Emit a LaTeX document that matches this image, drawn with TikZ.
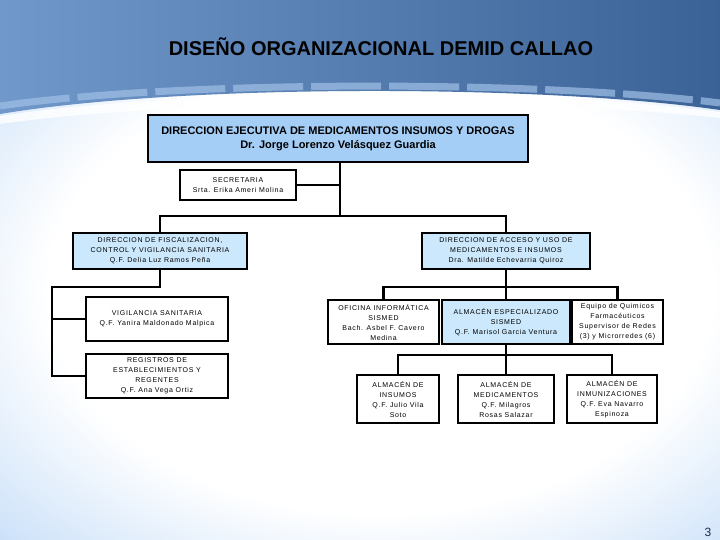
\documentclass[tikz,border=0pt]{standalone}
\usepackage{fontspec}
\setmainfont{Liberation Sans}
\newfontfamily\boxfont[LetterSpace=10]{Liberation Sans}
\usetikzlibrary{calc}
\definecolor{bgbody}{RGB}{176,209,246}
\definecolor{bandL}{RGB}{112,152,202}
\definecolor{bandM}{RGB}{165,198,238}
\definecolor{bandR}{RGB}{58,98,150}
\definecolor{stripe}{RGB}{160,192,230}
\definecolor{topfill}{RGB}{164,206,246}
\definecolor{lightfill}{RGB}{204,232,252}
\definecolor{pagenum}{RGB}{30,40,80}
\pgfdeclareradialshading{glow}{\pgfpoint{0bp}{0bp}}{color(0bp)=(white); color(13bp)=(white); color(25bp)=(bgbody); color(50bp)=(bgbody)}
\tikzset{
  box/.style={draw=black, line width=2.4pt, fill=white, align=center, inner sep=1pt,
    font=\boxfont\fontsize{7}{10}\selectfont},
  bluebox/.style={box, fill=lightfill},
  mainline/.style={draw=black, line width=2.2pt},
  thinline/.style={draw=black, line width=1.2pt}
}
\begin{document}
\begin{tikzpicture}[x=1pt,y=-1pt]
\useasboundingbox (0,0) rectangle (720,540);
% background
\fill[bgbody] (0,0) rectangle (720,540);
\shade[shading=glow] (380,290) ellipse (640 and 430);
\shade[left color=bandL, middle color=bandM, right color=bandR]
  (0,0) -- (720,0) -- (720,110) .. controls (540,84) and (180,84) .. (0,114) -- cycle;
\draw[stripe, opacity=0.7, line width=7pt, dash pattern=on 70pt off 8pt]
  (0,106) .. controls (180,80) and (540,80) .. (720,103);
\fill[white, opacity=0.8] (0,116) .. controls (180,88) and (540,88) .. (720,112) -- (720,118) .. controls (540,98) and (180,98) .. (0,124) -- cycle;

% title
\node[font=\bfseries\fontsize{20}{24}\selectfont] (title) at (381,47) {DISEÑO ORGANIZACIONAL DEMID CALLAO};

% nodes
\node[box, fill=topfill, minimum width=380pt, minimum height=47pt,
      font=\bfseries\fontsize{11}{14}\selectfont] (top) at (338,138.5)
  {DIRECCION EJECUTIVA DE MEDICAMENTOS INSUMOS Y DROGAS\\Dr. Jorge Lorenzo Velásquez Guardia};
\node[box, minimum width=116pt, minimum height=30pt] (sec) at (238,185)
  {SECRETARIA\\Srta. Erika Ameri Molina};
\node[bluebox, minimum width=174pt, minimum height=36pt] (fis) at (160,251)
  {DIRECCION DE FISCALIZACION,\\CONTROL Y VIGILANCIA SANITARIA\\Q.F. Delia Luz Ramos Peña};
\node[bluebox, minimum width=168pt, minimum height=36pt] (acc) at (506,251)
  {DIRECCION DE ACCESO Y USO DE\\MEDICAMENTOS E INSUMOS\\Dra. Matilde Echevarria Quiroz};
\node[box, minimum width=142pt, minimum height=44pt] (vig) at (157,319)
  {VIGILANCIA SANITARIA\\Q.F. Yanira Maldonado Malpica};
\node[box, minimum width=142pt, minimum height=44pt] (reg) at (157,376)
  {REGISTROS DE\\ESTABLECIMIENTOS Y\\REGENTES\\Q.F. Ana Vega Ortiz};
\node[box, minimum width=111pt, minimum height=44pt] (ofi) at (383.5,322)
  {OFICINA INFORMÁTICA\\SISMED\\Bach. Asbel F. Cavero\\Medina};
\node[bluebox, minimum width=128pt, minimum height=44pt] (esp) at (506,322)
  {ALMACÉN ESPECIALIZADO\\SISMED\\Q.F. Marisol Garcia Ventura};
\node[box, minimum width=91pt, minimum height=44pt] (equ) at (617.5,322)
  {Equipo de Quimicos\\Farmacéuticos\\Supervisor de Redes\\(3) y Microrredes (6)};
\node[box, minimum width=82pt, minimum height=48pt] (ins) at (398,399)
  {ALMACÉN DE\\INSUMOS\\Q.F. Julio Vila\\Soto};
\node[box, minimum width=96pt, minimum height=48pt] (med) at (506,399)
  {ALMACÉN DE\\MEDICAMENTOS\\Q.F. Milagros\\Rosas Salazar};
\node[box, minimum width=90pt, minimum height=48pt] (inm) at (612,399)
  {ALMACÉN DE\\INMUNIZACIONES\\Q.F. Eva Navarro\\Espinoza};

% junctions
\coordinate (j1) at (340,216);
\coordinate (l1) at (52,287);
\coordinate (r1) at (506,287);
\coordinate (r2) at (506,355);

% connectors
\draw[mainline] (top.south -| j1) -- (j1);
\draw[mainline] (sec.east) -- (sec.east -| j1);
\draw[mainline] (fis.north) -- (fis.north |- j1) -- (acc.north |- j1) -- (acc.north);
\draw[mainline] (fis.south) -- (fis.south |- l1) -- (l1) |- (reg.west);
\draw[mainline] (l1 |- vig.west) -- (vig.west);
\draw[mainline] (acc.south) -- (esp.north);
\draw[mainline] (ofi.north) |- (r1) -| (equ.north);
\draw[thinline] (esp.south) -- (med.north);
\draw[thinline] (ins.north) |- (r2) -| (inm.north);

% page number
\node[text=pagenum, font=\fontsize{12}{14}\selectfont] (pg) at (708,532) {3};
\end{tikzpicture}
\end{document}
